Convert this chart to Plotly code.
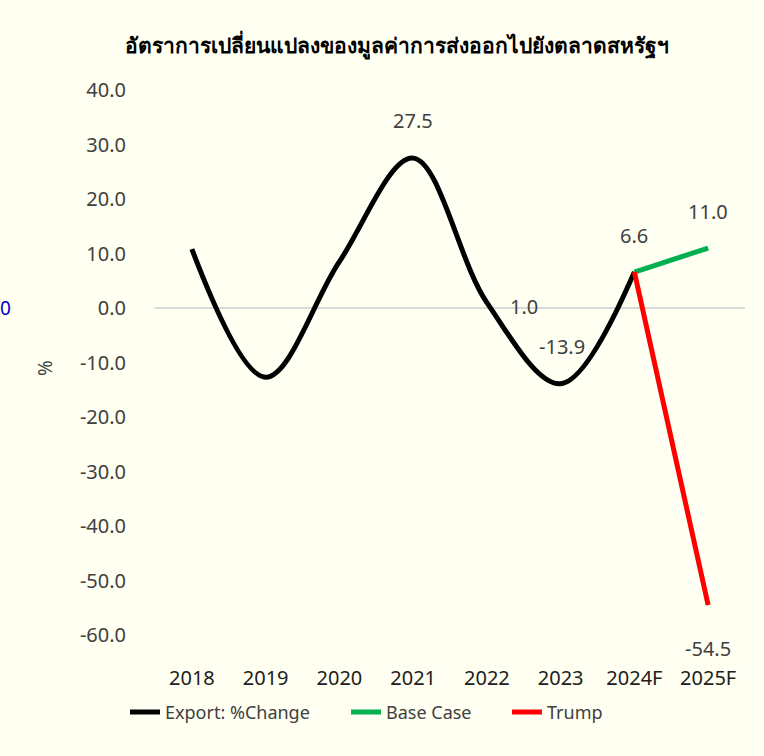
import plotly.graph_objects as go

categories = ["2018", "2019", "2020", "2021", "2022", "2023", "2024F", "2025F"]
export_change = [10.8, -12.7, 8.5, 27.5, 1.0, -13.9, 6.6]
base_case_x = ["2024F", "2025F"]
base_case = [6.6, 11.0]
trump_x = ["2024F", "2025F"]
trump = [6.6, -54.5]

y_ticks = [40, 30, 20, 10, 0, -10, -20, -30, -40, -50, -60]

label_x = ["2021", "2022", "2023", "2024F", "2025F", "2025F"]
label_y = [27.5, 1.0, -13.9, 6.6, 11.0, -54.5]
label_dx = [0, 37, 1, 0, 0, 0]
label_dy = [38, -4, 37, 37, 37, -43]

bg = "#FFFFF2"
txt = "#404040"
fnt = "Noto Sans, Open Sans, sans-serif"

L, R, T, B = 155, 19, 90, 121
PW = 764 - L - R


def px_x(p):
    return (p - L) / PW


fig = go.Figure()
fig.add_trace(go.Scatter(x=categories[:7], y=export_change, mode="lines",
                         line=dict(color="black", width=5, shape="spline", smoothing=1.0),
                         name="Export: %Change", legend="legend"))
fig.add_trace(go.Scatter(x=base_case_x, y=base_case, mode="lines",
                         line=dict(color="#00B050", width=5), name="Base Case",
                         legend="legend2"))
fig.add_trace(go.Scatter(x=trump_x, y=trump, mode="lines",
                         line=dict(color="#FF0000", width=5), name="Trump",
                         legend="legend3"))

annotations = []
for x, y, dx, dy in zip(label_x, label_y, label_dx, label_dy):
    annotations.append(dict(x=categories.index(x), y=y, xref="x", yref="y", text=f"{y:.1f}",
                            showarrow=False, xshift=dx, yshift=dy,
                            font=dict(size=20, color=txt, family=fnt)))
annotations.append(dict(x=px_x(45), y=0.49, xref="paper", yref="paper", text="%",
                        showarrow=False, textangle=-90, xanchor="center", yanchor="middle",
                        font=dict(size=19, color=txt, family=fnt)))
annotations.append(dict(x=px_x(5), y=0.0, xref="paper", yref="y", text="0",
                        showarrow=False, xanchor="center", yanchor="middle",
                        font=dict(size=19, color="#0000CC", family=fnt)))

leg_common = dict(orientation="h", yanchor="top", y=-0.108, xanchor="left",
                  font=dict(size=18, color=txt, family=fnt), bgcolor="rgba(0,0,0,0)")

fig.update_layout(
    width=764, height=756,
    paper_bgcolor=bg, plot_bgcolor=bg,
    margin=dict(l=L, r=R, t=T, b=B),
    title=dict(text="<b>อัตราการเปลี่ยนแปลงของมูลค่าการส่งออกไปยังตลาดสหรัฐฯ</b>",
               x=0.52, xanchor="center", y=0.94, yanchor="middle",
               font=dict(size=21, color="black", family="Noto Sans, sans-serif")),
    xaxis=dict(type="category", categoryorder="array", categoryarray=categories,
               range=[-0.5, 7.5], showgrid=False, showline=False, zeroline=False,
               ticks="", ticklabelstandoff=29,
               tickfont=dict(size=20, color="#202020", family=fnt)),
    yaxis=dict(range=[-60, 40], tickvals=y_ticks,
               ticktext=[f"{v:.1f}" for v in y_ticks], showgrid=False,
               zeroline=True, zerolinecolor="#D9D9D9", zerolinewidth=2,
               showline=False, ticks="", ticklabelstandoff=28,
               tickfont=dict(size=20, color=txt, family=fnt)),
    legend=dict(x=px_x(165 - 40), **leg_common),
    legend2=dict(x=px_x(386 - 40), **leg_common),
    legend3=dict(x=px_x(547 - 40), **leg_common),
    annotations=annotations,
    showlegend=True,
)

fig.write_html("out.html", config={"displayModeBar": False},
               post_script="document.body.style.margin='0';document.body.style.overflow='hidden';")
